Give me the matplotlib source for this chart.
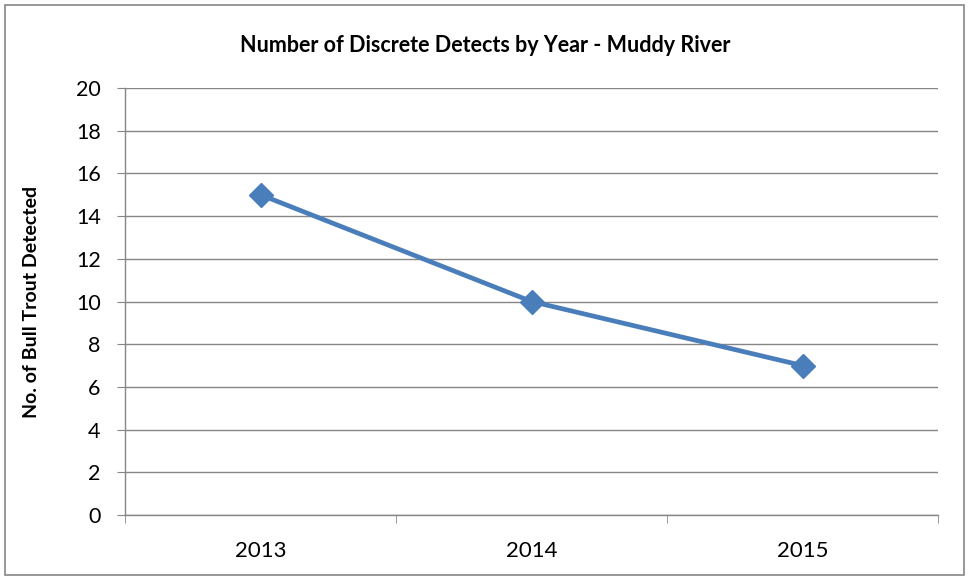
import matplotlib.pyplot as plt
from matplotlib.patches import Rectangle

years = ['2013', '2014', '2015']
detects = [15, 10, 7]
y_ticks = [0, 2, 4, 6, 8, 10, 12, 14, 16, 18, 20]

plt.rcParams['font.family'] = ['Lato', 'DejaVu Sans']

fig = plt.figure(figsize=(9.69, 5.8), dpi=100)
fig.patches.append(Rectangle((5 / 969, 5 / 580), 959 / 969, 570 / 580,
                             transform=fig.transFigure, fill=False,
                             edgecolor='#868686', linewidth=1.2))
ax = fig.add_axes([125 / 969, 65 / 580, 813 / 969, 427 / 580])

x = list(range(len(years)))
ax.plot(x, detects, color='#4A7EBB', linewidth=3.4, marker='D',
        markersize=12, markerfacecolor='#4A7EBB', markeredgecolor='#4A7EBB',
        zorder=3)

ax.set_xlim(-0.5, len(years) - 0.5)
ax.set_ylim(0, 20)
ax.set_yticks(y_ticks)
ax.yaxis.grid(True, color='#868686', linewidth=1.0)
ax.set_axisbelow(True)

# category labels centred, tick marks between categories
ax.set_xticks(x)
ax.set_xticklabels(years, fontsize=16)
ax.set_xticks([i - 0.5 for i in range(len(years) + 1)], minor=True)
ax.tick_params(axis='x', which='major', length=0, pad=19)
ax.tick_params(axis='x', which='minor', length=5.5, color='#868686', direction='out')
ax.tick_params(axis='y', length=5.5, color='#868686', labelsize=15.5, pad=12)

for side in ['top', 'right']:
    ax.spines[side].set_visible(False)
for side in ['left', 'bottom']:
    ax.spines[side].set_color('#868686')
    ax.spines[side].set_linewidth(1.0)

ax.set_ylabel('No. of Bull Trout Detected', fontsize=14, fontweight='bold')
ax.yaxis.set_label_coords(-85 / 813, 0.5)
fig.text(485 / 969, 1 - 45 / 580, 'Number of Discrete Detects by Year - Muddy River',
         ha='center', va='center', fontsize=15.5, fontweight='bold')

fig.savefig('out.png', dpi=100)
